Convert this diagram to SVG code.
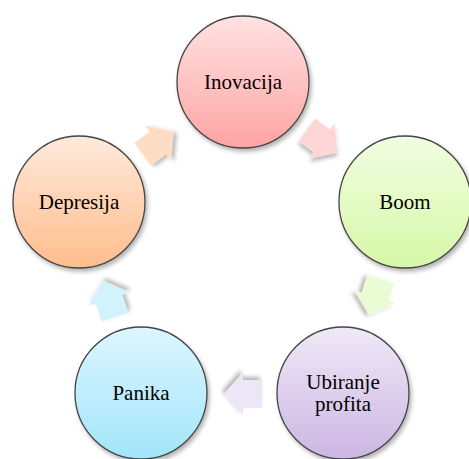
<svg xmlns="http://www.w3.org/2000/svg" width="469" height="459" viewBox="0 0 469 459">
<defs>
<linearGradient id="gPink" x1="0" y1="0" x2="0" y2="1"><stop offset="0" stop-color="#ffe2e2"/><stop offset="1" stop-color="#ffa4a4"/></linearGradient>
<linearGradient id="gGreen" x1="0" y1="0" x2="0" y2="1"><stop offset="0" stop-color="#f1fde2"/><stop offset="1" stop-color="#d6f8a6"/></linearGradient>
<linearGradient id="gPurple" x1="0" y1="0" x2="0" y2="1"><stop offset="0" stop-color="#efe9f7"/><stop offset="1" stop-color="#cdb6e3"/></linearGradient>
<linearGradient id="gBlue" x1="0" y1="0" x2="0" y2="1"><stop offset="0" stop-color="#dcf6ff"/><stop offset="1" stop-color="#a2e5fa"/></linearGradient>
<linearGradient id="gOrange" x1="0" y1="0" x2="0" y2="1"><stop offset="0" stop-color="#ffe9dc"/><stop offset="1" stop-color="#ffbd8c"/></linearGradient>
<linearGradient id="aPink" gradientUnits="userSpaceOnUse" x1="0" y1="120" x2="0" y2="162"><stop offset="0" stop-color="#ffd6d6"/><stop offset="1" stop-color="#ffb0b0"/></linearGradient>
<linearGradient id="aGreen" gradientUnits="userSpaceOnUse" x1="0" y1="276" x2="0" y2="318"><stop offset="0" stop-color="#eafcd4"/><stop offset="1" stop-color="#d8f8b4"/></linearGradient>
<linearGradient id="aPurple" gradientUnits="userSpaceOnUse" x1="0" y1="373" x2="0" y2="416"><stop offset="0" stop-color="#ede6f6"/><stop offset="1" stop-color="#d5c3ea"/></linearGradient>
<linearGradient id="aBlue" gradientUnits="userSpaceOnUse" x1="0" y1="278" x2="0" y2="320"><stop offset="0" stop-color="#d2f2fd"/><stop offset="1" stop-color="#b8ebfb"/></linearGradient>
<linearGradient id="aOrange" gradientUnits="userSpaceOnUse" x1="0" y1="122" x2="0" y2="164"><stop offset="0" stop-color="#ffdcc4"/><stop offset="1" stop-color="#ffc8a0"/></linearGradient>
<filter id="sh" x="-20%" y="-20%" width="150%" height="150%">
<feGaussianBlur in="SourceAlpha" stdDeviation="2"/>
<feOffset dx="2" dy="3" result="b"/>
<feComponentTransfer><feFuncA type="linear" slope="0.3"/></feComponentTransfer>
<feMerge><feMergeNode/><feMergeNode in="SourceGraphic"/></feMerge>
</filter>
<path id="arr" d="M19,0 L0,-21.5 L0,-14 L-19,-14 L-19,14 L0,14 L0,21.5 Z"/>
</defs>
<style>
.node circle{stroke:#454545;stroke-width:1.3;filter:url(#sh)}
.node text{font-family:"Liberation Serif","Times New Roman","DejaVu Serif",serif;font-size:21px;fill:#000;text-anchor:middle}
.conn use{filter:url(#sh)}
</style>
<g id="connectors" class="conn">
<use href="#arr" fill="url(#aPink)" transform="translate(322,141) rotate(36)"/>
<use href="#arr" fill="url(#aGreen)" transform="translate(375,297) rotate(108)"/>
<use href="#arr" fill="url(#aPurple)" transform="translate(243,394) rotate(180)"/>
<use href="#arr" fill="url(#aBlue)" transform="translate(109,299) rotate(-108)"/>
<use href="#arr" fill="url(#aOrange)" transform="translate(158,143) rotate(-36)"/>
</g>
<g id="node-inovacija" class="node">
<circle cx="243" cy="82" r="66" fill="url(#gPink)"/>
<text x="243" y="89">Inovacija</text>
</g>
<g id="node-boom" class="node">
<circle cx="405" cy="202" r="66" fill="url(#gGreen)"/>
<text x="405" y="209">Boom</text>
</g>
<g id="node-ubiranje" class="node">
<circle cx="343" cy="393" r="66" fill="url(#gPurple)"/>
<text x="343" y="389">Ubiranje</text>
<text x="343" y="411">profita</text>
</g>
<g id="node-panika" class="node">
<circle cx="141" cy="393" r="66" fill="url(#gBlue)"/>
<text x="141" y="400">Panika</text>
</g>
<g id="node-depresija" class="node">
<circle cx="79" cy="202" r="66" fill="url(#gOrange)"/>
<text x="79" y="209">Depresija</text>
</g>
</svg>
